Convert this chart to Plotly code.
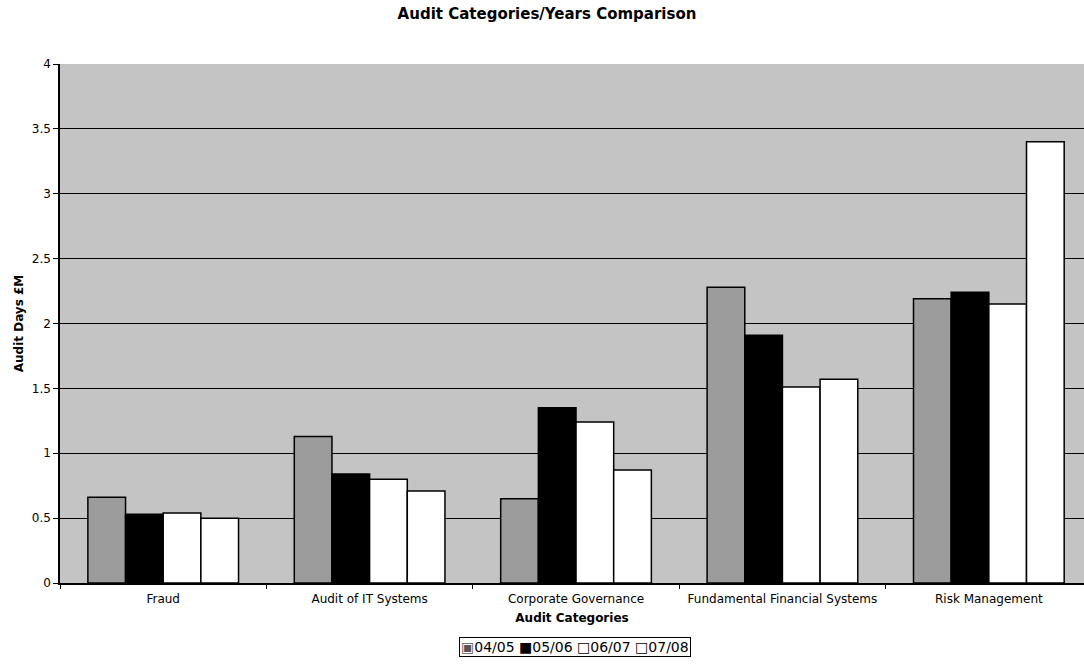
import plotly.graph_objects as go

categories = ["Fraud", "Audit of IT Systems", "Corporate Governance",
              "Fundamental Financial Systems", "Risk Management"]
years = ["04/05", "05/06", "06/07", "07/08"]
values_0405 = [0.66, 1.13, 0.65, 2.28, 2.19]
values_0506 = [0.53, 0.84, 1.35, 1.91, 2.24]
values_0607 = [0.54, 0.80, 1.24, 1.51, 2.15]
values_0708 = [0.50, 0.71, 0.87, 1.57, 3.40]
y_ticks = [0, 0.5, 1, 1.5, 2, 2.5, 3, 3.5, 4]

series = [values_0405, values_0506, values_0607, values_0708]
fills = ["#9c9c9c", "#000000", "#ffffff", "#ffffff"]
key_glyphs = ["▣", "■", "□", "□"]
key_colors = ["#555555", "#000000", "#000000", "#000000"]

FONT = "DejaVu Sans, Verdana, sans-serif"

fig = go.Figure()
for name, vals, col in zip(years, series, fills):
    fig.add_trace(go.Bar(
        x=categories, y=vals, name=name,
        marker=dict(color=col, line=dict(color="#000000", width=1.5)),
    ))

# compact boxed key under the axis title
key_text = " ".join(
    f"<span style='color:{c}'>{g}</span>{y}"
    for g, c, y in zip(key_glyphs, key_colors, years)
)
fig.add_annotation(
    text=key_text, xref="paper", yref="paper",
    x=(575 - 60) / 1024, xanchor="center",
    y=(583 - 647) / 519, yanchor="middle",
    showarrow=False,
    bordercolor="#000000", borderwidth=1, borderpad=1,
    bgcolor="#ffffff",
    font=dict(family=FONT, size=14, color="#000000"),
)

fig.update_layout(
    width=1084, height=664,
    margin=dict(l=60, r=0, t=64, b=81),
    paper_bgcolor="#ffffff",
    plot_bgcolor="#c4c4c4",
    barmode="group",
    bargap=0.27,
    bargroupgap=0,
    font=dict(family=FONT, color="#000000", size=12),
    title=dict(
        text="<b>Audit Categories/Years Comparison</b>",
        x=547 / 1084, xanchor="center", xref="container",
        y=1 - 14 / 664, yanchor="middle",
        font=dict(family=FONT, size=15, color="#000000"),
    ),
    showlegend=False,
    xaxis=dict(
        range=[-0.5, 4.461],
        showline=True, linecolor="#000000", linewidth=1.5,
        ticks="outside", tickson="boundaries", ticklen=4,
        tickcolor="#000000",
        showgrid=False,
        ticklabelstandoff=4,
        tickfont=dict(family=FONT, size=12),
        title=dict(text="<b>Audit Categories</b>", standoff=8,
                   font=dict(family=FONT, size=12)),
    ),
    yaxis=dict(
        range=[0, 4],
        tickvals=y_ticks,
        ticktext=[f"{v:g}" for v in y_ticks],
        showline=True, linecolor="#000000", linewidth=1.5,
        ticks="outside", ticklen=5, tickcolor="#000000",
        showgrid=True, gridcolor="#000000", gridwidth=1.2,
        zeroline=False,
        tickfont=dict(family=FONT, size=12),
        title=dict(text="<b>Audit Days £M</b>", standoff=6,
                   font=dict(family=FONT, size=12)),
    ),
)

fig.write_html("out.html")
